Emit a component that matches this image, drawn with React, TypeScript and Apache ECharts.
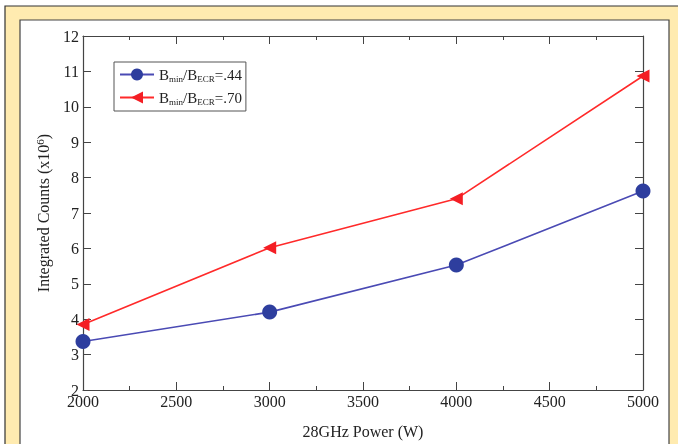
import React, { useEffect, useRef } from "react";
import * as echarts from "echarts";

const powers = [2000, 3000, 4000, 5000];
const counts044 = [3.37, 4.2, 5.53, 7.62];
const counts070 = [3.85, 6.02, 7.4, 10.87];
const seriesNames = ["Bmin/BECR=.44", "Bmin/BECR=.70"];
const legendRich: Record<string, string> = {
  "Bmin/BECR=.44": "{b|B}{s|min}{b|/B}{s|ECR}{b|=.44}",
  "Bmin/BECR=.70": "{b|B}{s|min}{b|/B}{s|ECR}{b|=.70}",
};

const FONT = "Liberation Serif";

export default function App() {
  const ref = useRef<HTMLDivElement>(null);
  useEffect(() => {
    const chart = echarts.init(ref.current!, null, { renderer: "svg" });
    const axisCommon = {
      axisLine: { show: true, lineStyle: { color: "#444", width: 1.2 } },
      splitLine: { show: false },
    };
    chart.setOption({
      animation: false,
      backgroundColor: "transparent",
      graphic: [
        {
          type: "rect",
          shape: { x: 5, y: 6, width: 700, height: 460 },
          style: { fill: "#FFEBB0", stroke: "#333", lineWidth: 1.2 },
          z: -10,
        },
        {
          type: "rect",
          shape: { x: 20, y: 20, width: 649, height: 440 },
          style: { fill: "#ffffff", stroke: "#444", lineWidth: 1.2 },
          z: -9,
        },
      ],
      grid: { left: 83, top: 36, width: 560, height: 354, containLabel: false },
      legend: {
        left: 114,
        top: 62,
        orient: "vertical",
        itemWidth: 34,
        itemHeight: 15,
        itemGap: 7,
        padding: [5, 4, 5, 5],
        borderColor: "#555",
        borderWidth: 1,
        backgroundColor: "#fff",
        data: seriesNames,
        formatter: (name: string) => legendRich[name],
        textStyle: {
          fontFamily: FONT,
          rich: {
            b: { fontFamily: FONT, fontSize: 15, color: "#222" },
            s: { fontFamily: FONT, fontSize: 9, color: "#222", verticalAlign: "bottom", padding: [8, 0, 0, 0] },
          },
        },
      },
      xAxis: [
        {
          type: "value",
          min: 2000,
          max: 5000,
          interval: 500,
          position: "bottom",
          ...axisCommon,
          axisTick: { show: true, inside: true, length: 8, lineStyle: { color: "#444" } },
          minorTick: { show: true, splitNumber: 2, length: 4, lineStyle: { color: "#444" } },
          axisLabel: { fontFamily: FONT, fontSize: 16, color: "#222", margin: 3, formatter: (v: number) => String(v) },
          name: "28GHz Power (W)",
          nameLocation: "middle",
          nameGap: 33,
          nameTextStyle: { fontFamily: FONT, fontSize: 16, color: "#222" },
        },
        {
          type: "value",
          min: 2000,
          max: 5000,
          interval: 500,
          position: "top",
          ...axisCommon,
          axisTick: { show: true, inside: true, length: 8, lineStyle: { color: "#444" } },
          minorTick: { show: true, splitNumber: 2, length: 4, lineStyle: { color: "#444" } },
          axisLabel: { show: false },
        },
      ],
      yAxis: [
        {
          type: "value",
          min: 2,
          max: 12,
          interval: 1,
          position: "left",
          ...axisCommon,
          axisTick: { show: true, inside: true, length: 8, lineStyle: { color: "#444" } },
          axisLabel: { fontFamily: FONT, fontSize: 16, color: "#222", margin: 4 },
          name: "{n|Integrated Counts (x10}{p|6}{n|)}",
          nameLocation: "middle",
          nameGap: 30,
          nameTextStyle: {
            rich: {
              n: { fontFamily: FONT, fontSize: 16, color: "#222" },
              p: { fontFamily: FONT, fontSize: 11, color: "#222", verticalAlign: "top", padding: [0, 0, 8, 0] },
            },
          },
        },
        {
          type: "value",
          min: 2,
          max: 12,
          interval: 1,
          position: "right",
          ...axisCommon,
          axisTick: { show: true, inside: true, length: 8, lineStyle: { color: "#444" } },
          axisLabel: { show: false },
        },
      ],
      series: [
        {
          name: seriesNames[0],
          type: "line",
          data: powers.map((p, i) => [p, counts044[i]]),
          symbol: "circle",
          symbolSize: 15,
          itemStyle: { color: "#2E3E9E" },
          lineStyle: { color: "#4A4AB4", width: 1.6 },
          z: 3,
        },
        {
          name: seriesNames[1],
          type: "line",
          data: powers.map((p, i) => [p, counts070[i]]),
          symbol: "triangle",
          symbolRotate: 90,
          symbolSize: 13,
          itemStyle: { color: "#F41E24" },
          lineStyle: { color: "#FF2A2A", width: 1.6 },
          z: 4,
        },
      ],
    });
    return () => chart.dispose();
  }, []);
  return <div ref={ref} style={{ position: "fixed", left: 0, top: 0, width: 678, height: 444 }} />;
}
